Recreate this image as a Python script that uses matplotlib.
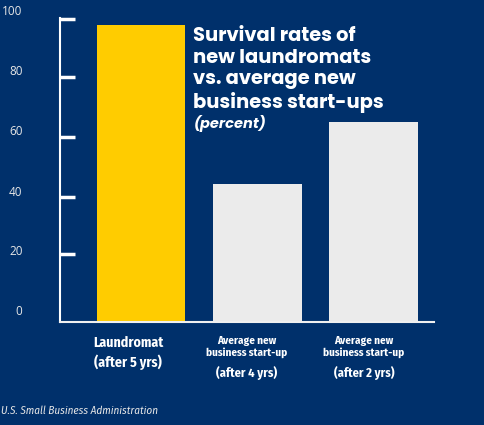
import matplotlib.pyplot as plt

rates = [95, 44, 64]
bar_colors = ['#FFCC00', '#EBEBEB', '#EBEBEB']
tick_labels = ['0', '20', '40', '60', '80', '100']
cat_names = ['Laundromat', 'Average new\nbusiness start-up', 'Average new\nbusiness start-up']
cat_periods = ['(after 5 yrs)', '(after 4 yrs)', '(after 2 yrs)']

# in the picture the labels sit a little above the tick marks
label_pos = [3.8, 23.0, 41.9, 61.4, 80.6, 99.8]
mark_pos = [21.7, 40.0, 59.2, 78.4, 97.0]

bg = '#00306B'
W, H = 484, 425
title_font = ['Poppins', 'DejaVu Sans']
cond_font = ['Fira Sans Condensed', 'DejaVu Sans']


def fx(px):
    return px / W


def fy(py):
    return 1 - py / H


fig = plt.figure(figsize=(4.84, 4.25), dpi=100, facecolor=bg)
# axes: 0 at y=322px, 100 at y=9.4px
ax = fig.add_axes([fx(60), fy(322), fx(434) - fx(60), fy(9.4) - fy(322)])
ax.set_facecolor(bg)
ax.patch.set_alpha(0)

x = range(len(rates))
ax.bar(x, rates, width=0.76, color=bar_colors, zorder=2)

for s in ['top', 'right']:
    ax.spines[s].set_visible(False)
ax.spines['left'].set_color('white')
ax.spines['left'].set_linewidth(1.5)
ax.spines['left'].set_bounds(0, 97.3)
ax.spines['bottom'].set_color('#F0F0F0')
ax.spines['bottom'].set_linewidth(1.5)

ax.set_yticks(label_pos, tick_labels, family=['Open Sans', 'DejaVu Sans'])
ax.tick_params(axis='y', length=0, pad=27, labelsize=8.5, labelcolor='#E6E6E6')
ax.set_yticks(mark_pos, minor=True)
ax.tick_params(axis='y', which='minor', direction='in', length=11, width=2.5, color='white')
ax.set_xticks([])
ax.set_xlim(-0.70, 2.52)
ax.set_ylim(0, 100)

# category labels under the bars (slightly left of bar centres, as in the picture)
lab_x = [128, 246.5, 364]
fig.text(fx(lab_x[0]), fy(343), cat_names[0], ha='center', va='center', color='white',
         fontsize=10, fontweight='bold', family=cond_font)
fig.text(fx(lab_x[0]), fy(362), cat_periods[0], ha='center', va='center', color='white',
         fontsize=10, fontweight='bold', family=cond_font)
for i in (1, 2):
    fig.text(fx(lab_x[i]), fy(336), cat_names[i], ha='center', va='top', color='white',
             fontsize=8, fontweight='bold', family=cond_font, linespacing=1.05)
    fig.text(fx(lab_x[i]), fy(373), cat_periods[i], ha='center', va='center', color='white',
             fontsize=9, fontweight='bold', family=cond_font)

fig.text(fx(193), fy(27), 'Survival rates of\nnew laundromats\nvs. average new\nbusiness start-ups',
         ha='left', va='top', color='white', fontsize=14, fontweight='bold',
         family=title_font, linespacing=1.18)
fig.text(fx(194), fy(123), '(percent)', ha='left', va='center', color='white',
         fontsize=10.5, fontweight='bold', fontstyle='italic', family=title_font)

fig.text(fx(1), fy(411), 'U.S. Small Business Administration', ha='left', va='center',
         color='#E6E6E6', fontsize=8, fontstyle='italic', family=cond_font)

plt.savefig('out.png', dpi=100, facecolor=bg)
